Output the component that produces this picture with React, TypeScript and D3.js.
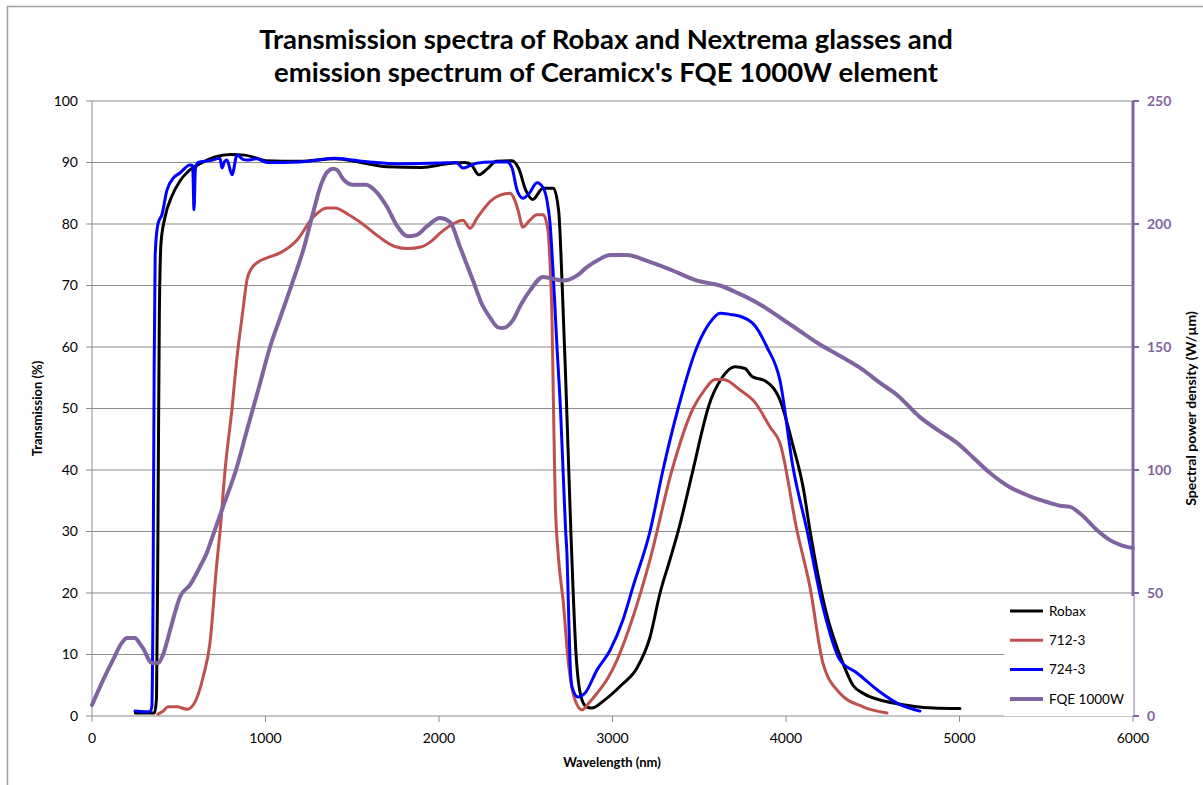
import React from "react";
import * as d3 from "d3";

// [wavelength nm, transmission %]
const robax: [number, number][] = [
  [250, 0.5], [300, 0.5], [360, 0.5], [372, 3], [380, 30], [388, 65], [398, 77], [420, 81],
  [460, 84.5], [507, 87], [560, 88.7], [622, 89.8], [709, 90.9], [800, 91.3], [880, 91.2],
  [950, 90.7], [1000, 90.3], [1200, 90.2], [1400, 90.6], [1550, 90], [1700, 89.3], [1900, 89.2],
  [2050, 89.8], [2150, 90], [2190, 89.5], [2230, 88], [2280, 89], [2330, 90.2], [2420, 90.3],
  [2460, 89], [2500, 85.5], [2540, 84], [2600, 85.8], [2660, 85.8], [2690, 82], [2710, 70],
  [2730, 55], [2760, 30], [2790, 10], [2820, 3], [2850, 1.5], [2880, 1.3], [2950, 2.5],
  [3050, 5], [3141, 7.8], [3216, 12.8], [3274, 20], [3331, 25.4], [3378, 30], [3464, 40],
  [3522, 47], [3550, 50], [3631, 55], [3706, 56.8], [3764, 56.5], [3804, 55.2], [3879, 54.5],
  [3965, 51.4], [4040, 44], [4100, 37], [4138, 30.2], [4230, 17], [4328, 8.6], [4386, 5],
  [4450, 3.6], [4542, 2.6], [4640, 2], [4732, 1.6], [4850, 1.3], [5003, 1.2],
];

const n712: [number, number][] = [
  [380, 0.3], [410, 0.8], [438, 1.5], [490, 1.5], [548, 1.1], [594, 2.3], [640, 6.3],
  [680, 11.9], [720, 25], [738, 30], [767, 40], [807, 50], [836, 58.4], [870, 66], [893, 70.9],
  [920, 72.8], [951, 73.7], [1009, 74.5], [1084, 75.3], [1182, 77.4], [1274, 81.1],
  [1354, 82.6], [1400, 82.6], [1480, 81.5], [1560, 80], [1650, 78], [1750, 76.3], [1820, 76],
  [1900, 76.3], [1960, 77.3], [2006, 78.5], [2080, 80], [2138, 80.6], [2179, 79.3], [2220, 81],
  [2254, 82.3], [2300, 83.8], [2352, 84.7], [2409, 85], [2435, 84], [2455, 82.3], [2484, 79.5],
  [2520, 80.5], [2565, 81.5], [2600, 81.5], [2628, 79], [2640, 73.6], [2651, 65], [2660, 50],
  [2670, 35], [2685, 27], [2697, 23.2], [2715, 18.9], [2744, 9.1], [2784, 2.6], [2824, 1],
  [2860, 2], [2911, 3.7], [2970, 6], [3026, 9.1], [3118, 16.1], [3216, 25.4], [3343, 40],
  [3464, 50], [3530, 53], [3591, 54.7], [3640, 54.7], [3735, 53], [3821, 51], [3908, 47],
  [3965, 44.4], [4063, 30.2], [4138, 21], [4213, 8.6], [4311, 3.7], [4444, 1.5], [4582, 0.5],
];

const n724: [number, number][] = [
  [248, 0.8], [300, 0.7], [334, 0.7], [345, 1.5], [352, 20], [358, 55], [364, 75], [380, 80],
  [403, 81.5], [432, 85.5], [470, 87.5], [507, 88.3], [565, 89.6], [580, 89.5], [588, 82.3],
  [596, 89], [611, 90], [680, 90.3], [738, 90.7], [749, 89.1], [765, 90.2], [778, 90.4],
  [807, 88], [836, 91.2], [870, 90.5], [893, 90.4], [950, 90.6], [1009, 90], [1200, 90.1],
  [1300, 90.4], [1400, 90.7], [1500, 90.4], [1600, 90.1], [1800, 89.8], [2000, 89.9],
  [2100, 90], [2138, 89.1], [2180, 89.5], [2219, 89.9], [2300, 90.1], [2392, 90.1],
  [2421, 89.1], [2450, 85.5], [2484, 84.2], [2520, 85], [2565, 86.7], [2600, 85.9],
  [2622, 83.9], [2640, 80.1], [2657, 72.5], [2680, 60], [2700, 50], [2715, 40], [2730, 30],
  [2738, 26], [2744, 20], [2755, 9], [2767, 4.7], [2801, 3.1], [2841, 3.7], [2911, 7.5],
  [2986, 10.7], [3060, 15.6], [3118, 21], [3216, 30], [3291, 40], [3378, 50], [3487, 60],
  [3562, 64], [3620, 65.5], [3680, 65.3], [3735, 65], [3820, 63.5], [3890, 60], [3965, 54.6],
  [4040, 40.5], [4121, 30.2], [4213, 17.7], [4311, 9.1], [4409, 7], [4542, 3.9], [4640, 2.1],
  [4772, 0.8],
];

// [wavelength nm, spectral power density W/µm] (right axis)
const fqe: [number, number][] = [
  [0, 4.5], [60, 14], [121, 22.8], [170, 29.5], [202, 31.7], [248, 31.7], [270, 30],
  [294, 27.6], [346, 21.5], [380, 21.5], [410, 25], [438, 31.7], [470, 40], [507, 48.4],
  [565, 53.3], [622, 60.6], [660, 66], [700, 74], [760, 86], [830, 100], [900, 118],
  [960, 133], [1026, 150], [1090, 163], [1159, 177], [1220, 190], [1274, 204.5], [1320, 216],
  [1354, 221], [1390, 222.5], [1412, 222], [1450, 218], [1500, 216], [1580, 216], [1640, 213],
  [1700, 207], [1760, 199], [1820, 195], [1870, 195.5], [1930, 199], [2006, 202.4],
  [2063, 200.8], [2121, 190.7], [2196, 177], [2250, 167], [2294, 162], [2340, 158],
  [2369, 157.7], [2427, 161], [2470, 167], [2525, 173], [2600, 178.5], [2715, 177],
  [2795, 179], [2853, 182.5], [2920, 185.5], [2986, 187.4], [3084, 187.4], [3200, 185],
  [3349, 181], [3487, 177], [3620, 175], [3720, 172], [3833, 168], [3965, 162], [4080, 156.5],
  [4196, 151], [4320, 146], [4444, 140.7], [4540, 135.5], [4640, 130.5], [4772, 121.5],
  [4880, 116], [4986, 111], [5080, 105], [5176, 98.8], [5291, 93], [5400, 89.5], [5504, 87],
  [5580, 85.5], [5637, 85], [5700, 82], [5792, 75.6], [5867, 71.5], [5930, 69.5], [6000, 68.3],
];

const xTicks = [0, 1000, 2000, 3000, 4000, 5000, 6000];
const yTicks = [0, 10, 20, 30, 40, 50, 60, 70, 80, 90, 100];
const y2Ticks = [0, 50, 100, 150, 200, 250];

const series = [
  { name: "Robax", data: robax, color: "#000000", width: 3, right: false },
  { name: "712-3", data: n712, color: "#C0504D", width: 3, right: false },
  { name: "724-3", data: n724, color: "#0000FF", width: 3, right: false },
  { name: "FQE 1000W", data: fqe, color: "#8064A2", width: 4, right: true },
];

const title1 = "Transmission spectra of Robax and Nextrema glasses and";
const title2 = "emission spectrum of Ceramicx's FQE 1000W element";

export default function App() {
  const W = 1203;
  const H = 785;
  const left = 92, right = 1133, top = 101, bottom = 716;
  const font = "Lato, 'Open Sans', sans-serif";

  const x = d3.scaleLinear().domain([0, 6000]).range([left, right]);
  const y = d3.scaleLinear().domain([0, 100]).range([bottom, top]);
  const y2 = d3.scaleLinear().domain([0, 250]).range([bottom, top]);

  const lineFor = (right: boolean) =>
    d3.line<[number, number]>()
      .x(d => x(d[0]))
      .y(d => (right ? y2(d[1]) : y(d[1])))
      .curve(d3.curveMonotoneX);

  const legX = 1004, legY = 596, legW = right - legX, legH = bottom - legY;

  return (
    <svg width={W} height={H} style={{ position: "absolute", left: 0, top: 0, background: "#fff" }}>
      <rect x={7.5} y={6.5} width={W} height={H} fill="#fff" stroke="#a0a0a0" strokeWidth={1.5} />

      <text x={606} y={49} textAnchor="middle" fontFamily={font} fontWeight="bold" fontSize={27.5} fill="#000">{title1}</text>
      <text x={606} y={82} textAnchor="middle" fontFamily={font} fontWeight="bold" fontSize={27.5} fill="#000">{title2}</text>

      {yTicks.map(t => (
        <g key={"g" + t}>
          {t > 0 && <line x1={left} x2={right} y1={y(t)} y2={y(t)} stroke="#8c8c8c" strokeWidth={1} />}
          <line x1={left - 6} x2={left} y1={y(t)} y2={y(t)} stroke="#8c8c8c" strokeWidth={1} />
          <text x={left - 14} y={y(t)} dy="0.35em" textAnchor="end" fontFamily={font} fontSize={14} fill="#000">{t}</text>
        </g>
      ))}

      <line x1={left} x2={left} y1={top} y2={bottom} stroke="#8c8c8c" strokeWidth={1} />
      <line x1={left} x2={right} y1={bottom} y2={bottom} stroke="#8c8c8c" strokeWidth={1} />
      {xTicks.map(t => (
        <g key={"x" + t}>
          <line x1={x(t)} x2={x(t)} y1={bottom} y2={bottom + 6} stroke="#8c8c8c" strokeWidth={1} />
          <text x={x(t)} y={738} dy="0.35em" textAnchor="middle" fontFamily={font} fontSize={14} fill="#000">{t}</text>
        </g>
      ))}

      <line x1={right} x2={right} y1={top} y2={bottom} stroke="#8064A2" strokeWidth={3} />
      {y2Ticks.map(t => (
        <g key={"r" + t}>
          <line x1={right} x2={right + 6} y1={y2(t)} y2={y2(t)} stroke="#8064A2" strokeWidth={2} />
          <text x={right + 14} y={y2(t)} dy="0.35em" textAnchor="start" fontFamily={font} fontWeight="bold" fontSize={14} fill="#8064A2">{t}</text>
        </g>
      ))}

      <text transform={`translate(42,${(top + bottom) / 2}) rotate(-90)`} textAnchor="middle" fontFamily={font} fontWeight="bold" fontSize={13} fill="#000">Transmission (%)</text>
      <text transform={`translate(1196,${(top + bottom) / 2}) rotate(-90)`} textAnchor="middle" fontFamily={font} fontWeight="bold" fontSize={14} fill="#000">Spectral power density (W/µm)</text>
      <text x={612} y={767} textAnchor="middle" fontFamily={font} fontWeight="bold" fontSize={13} fill="#000">Wavelength (nm)</text>

      {series.map(s => (
        <path key={s.name} d={lineFor(s.right)(s.data) || ""} fill="none" stroke={s.color} strokeWidth={s.width} strokeLinejoin="round" strokeLinecap="round" />
      ))}

      <rect x={legX} y={legY} width={legW} height={legH} fill="#fff" />
      <line x1={right + 0.5} x2={right + 0.5} y1={legY} y2={bottom} stroke="#c8c0d8" strokeWidth={1} />
      <line x1={right} x2={right + 6} y1={y2(0)} y2={y2(0)} stroke="#8064A2" strokeWidth={2} />
      {series.map((s, i) => (
        <g key={"l" + s.name} transform={`translate(1010,${611 + i * 29.3})`}>
          <line x1={0} x2={33} y1={0} y2={0} stroke={s.color} strokeWidth={s.width} />
          <text x={39} y={0} dy="0.35em" fontFamily={font} fontSize={13.5} fill="#000">{s.name}</text>
        </g>
      ))}
    </svg>
  );
}
